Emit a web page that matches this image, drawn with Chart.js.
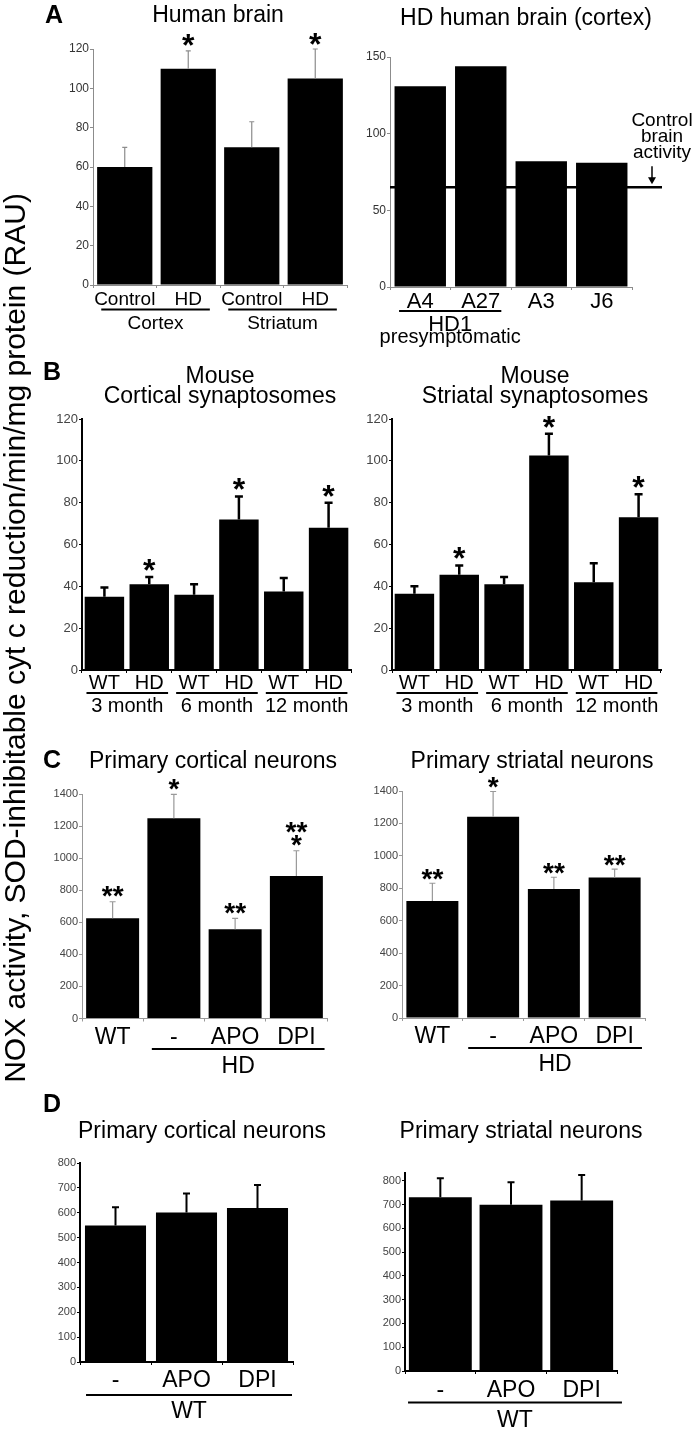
<!DOCTYPE html>
<html><head><meta charset="utf-8">
<script src="https://cdn.jsdelivr.net/npm/chart.js@4.4.1/dist/chart.umd.min.js"></script>
<style>
html,body{margin:0;padding:0;background:#fff;width:696px;height:1429px;overflow:hidden;position:relative;}
canvas{position:absolute;left:0;top:0;pointer-events:none;}
</style></head><body>
<script>
// ---------------- DATA ----------------
const humanBrainLabels = ['Control','HD','Control','HD'];
const humanBrainValues = [60,110,70,105];
const humanBrainSem = [10,9,13,15];
const humanBrainSig = ['','*','','*'];
const humanBrainGroups = ['Cortex','Striatum'];
const humanBrainGroupSpans = [[0,1],[2,3]];

const hdCortexLabels = ['A4','A27','A3','J6'];
const hdCortexValues = [131,144,82,81];
const hdCortexGroups = ['HD1'];
const hdCortexGroupSpans = [[0,1]];
const controlBrainActivity = 65;

const synLabels = ['WT','HD','WT','HD','WT','HD'];
const synGroups = ['3 month','6 month','12 month'];
const synGroupSpans = [[0,1],[2,3],[4,5]];
const corticalSynValues = [35,41,36,72,37.5,68];
const corticalSynSem = [4.5,3.5,5,11,6.5,12];
const corticalSynSig = ['','*','','*','','*'];
const striatalSynValues = [36.5,45.5,41,102.5,42,73];
const striatalSynSem = [3.5,4.5,3.5,10.5,9,11];
const striatalSynSig = ['','*','','*','','*'];

const primaryHdLabels = ['WT','-','APO','DPI'];
const primaryHdGroups = ['HD'];
const primaryHdGroupSpans = [[1,3]];
const corticalHdValues = [625,1248,556,888];
const corticalHdSem = [103,150,69,158];
const corticalHdSig = [['**'],['*'],['**'],['**','*']];
const striatalHdValues = [722,1241,796,866];
const striatalHdSem = [109,156,72,52];
const striatalHdSig = [['**'],['*'],['**'],['**']];

const primaryWtLabels = ['-','APO','DPI'];
const primaryWtGroups = ['WT'];
const primaryWtGroupSpans = [[0,2]];
const corticalWtValues = [549,601,619];
const corticalWtSem = [73,76,93];
const striatalWtValues = [731,699,717];
const striatalWtSem = [80,95,108];

const yAxisTitle = 'NOX activity, SOD-inhibitable cyt c reduction/min/mg protein (RAU)';

// ---------------- LAYOUT ----------------
const FONT = "'Liberation Sans', Arial, Helvetica, sans-serif";
const W = 696, H = 1429;
const Y_AXIS_W = 40;
const toLines = s => (Array.isArray(s) ? s : (s ? [s] : []));

const styleA = {axisColor:'#8c8c8c', axisW:1, errColor:'#8c8c8c', errW:1.2, capW:5, tickFont:12, tickColor:'#333'};
const styleB = {axisColor:'#000', axisW:2, errColor:'#000', errW:2.5, capW:8, tickFont:13, tickColor:'#444'};
const styleC = {axisColor:'#999', axisW:1, errColor:'#999', errW:1.2, capW:6, tickFont:11, tickColor:'#444'};
const styleD = {axisColor:'#000', axisW:2, errColor:'#000', errW:2, capW:7, tickFont:11, tickColor:'#444'};

const panels = [
 Object.assign({id:'aL', area:{l:93,t:49,r:347,b:285}, yMax:120, yStep:20,
   labels:humanBrainLabels, values:humanBrainValues, sem:humanBrainSem, sig:humanBrainSig,
   groups:humanBrainGroups, spans:humanBrainGroupSpans, spanPad:[0.37,0.34], barPct:0.87,
   labelFont:19, labelDy:20, lineDy:24.5, groupFont:19, groupDy:44, sigFont:32, sigDy:10.5, sigLineH:13,
   titles:[{text:'Human brain', x:218, y:22, size:23}], letter:{text:'A', x:45, y:23}, yTitle:true}, styleA),
 Object.assign({id:'aR', area:{l:390,t:57,r:632,b:287}, yMax:150, yStep:50,
   labels:hdCortexLabels, values:hdCortexValues, sem:null, sig:null,
   groups:hdCortexGroups, spans:hdCortexGroupSpans, spanPad:[0.35,0.34], barPct:0.85,
   labelFont:22, labelDy:21, lineDy:24, groupFont:22, groupDy:44, subGroup:{text:'presymptomatic', dy:56, size:20},
   control:controlBrainActivity,
   titles:[{text:'HD human brain (cortex)', x:526, y:25, size:23}]}, styleA),
 Object.assign({id:'bL', area:{l:82,t:419,r:351,b:670}, yMax:120, yStep:20,
   labels:synLabels, values:corticalSynValues, sem:corticalSynSem, sig:corticalSynSig,
   groups:synGroups, spans:synGroupSpans, spanPad:[0.4,0.42], barPct:0.88,
   labelFont:20, labelDy:19, lineDy:23, groupFont:20, groupDy:42, sigFont:32, sigDy:12, sigLineH:13,
   titles:[{text:'Mouse', x:220, y:383, size:23},{text:'Cortical synaptosomes', x:220, y:403, size:23}],
   letter:{text:'B', x:43, y:380}}, styleB),
 Object.assign({id:'bR', area:{l:392,t:419,r:661,b:670}, yMax:120, yStep:20,
   labels:synLabels, values:striatalSynValues, sem:striatalSynSem, sig:striatalSynSig,
   groups:synGroups, spans:synGroupSpans, spanPad:[0.4,0.42], barPct:0.88,
   labelFont:20, labelDy:19, lineDy:23, groupFont:20, groupDy:42, sigFont:32, sigDy:12, sigLineH:13,
   titles:[{text:'Mouse', x:535, y:383, size:23},{text:'Striatal synaptosomes', x:535, y:403, size:23}]}, styleB),
 Object.assign({id:'cL', area:{l:82,t:794,r:327,b:1018.5}, yMax:1400, yStep:200,
   labels:primaryHdLabels, values:corticalHdValues, sem:corticalHdSem, sig:corticalHdSig,
   groups:primaryHdGroups, spans:primaryHdGroupSpans, spanPad:[0.36,0.46], barPct:0.865,
   labelFont:23, labelDy:25.5, lineDy:30.5, groupFont:23, groupDy:54.5, sigFont:28, sigDy:10, sigLineH:13,
   titles:[{text:'Primary cortical neurons', x:213, y:768, size:23}], letter:{text:'C', x:43, y:768}}, styleC),
 Object.assign({id:'cR', area:{l:402,t:791,r:645,b:1018}, yMax:1400, yStep:200,
   labels:primaryHdLabels, values:striatalHdValues, sem:striatalHdSem, sig:striatalHdSig,
   groups:primaryHdGroups, spans:primaryHdGroupSpans, spanPad:[0.41,0.45], barPct:0.856,
   labelFont:23, labelDy:25, lineDy:30, groupFont:23, groupDy:53, sigFont:28, sigDy:9, sigLineH:13,
   titles:[{text:'Primary striatal neurons', x:532, y:768, size:23}]}, styleC),
 Object.assign({id:'dL', area:{l:80,t:1163,r:293,b:1362}, yMax:800, yStep:100,
   labels:primaryWtLabels, values:corticalWtValues, sem:corticalWtSem, sig:null,
   groups:primaryWtGroups, spans:primaryWtGroupSpans, spanPad:[0.415,0.486], barPct:0.86,
   labelFont:23, labelDy:25, lineDy:33, groupFont:23, groupDy:56,
   titles:[{text:'Primary cortical neurons', x:202, y:1138, size:23}], letter:{text:'D', x:43, y:1112}}, styleD),
 Object.assign({id:'dR', area:{l:405,t:1173,r:617,b:1371}, yMax:833, yStep:100,
   labels:primaryWtLabels, values:striatalWtValues, sem:striatalWtSem, sig:null,
   groups:primaryWtGroups, spans:primaryWtGroupSpans, spanPad:[0.457,0.57], barPct:0.89,
   labelFont:23, labelDy:26, lineDy:31.5, groupFont:23, groupDy:56,
   titles:[{text:'Primary striatal neurons', x:521, y:1138, size:23}]}, styleD)
];

function decorPlugin(p){
  return {
    id:'decor_'+p.id,
    afterDraw(chart){
      const ctx = chart.ctx, xs = chart.scales.x, ys = chart.scales.y, ca = chart.chartArea;
      const meta = chart.getDatasetMeta(0);
      ctx.save();
      // error bars
      if (p.sem){
        ctx.strokeStyle = p.errColor; ctx.lineWidth = p.errW; ctx.lineCap = 'butt';
        p.values.forEach((v,i)=>{
          const x = meta.data[i].x;
          const y0 = ys.getPixelForValue(v), y1 = ys.getPixelForValue(v + p.sem[i]);
          ctx.beginPath();
          ctx.moveTo(x, y0); ctx.lineTo(x, y1);
          ctx.moveTo(x - p.capW/2, y1); ctx.lineTo(x + p.capW/2, y1);
          ctx.stroke();
        });
      }
      // significance marks
      if (p.sig){
        ctx.fillStyle = '#000';
        ctx.font = `bold ${p.sigFont}px ${FONT}`;
        ctx.textAlign = 'center'; ctx.textBaseline = 'alphabetic';
        const m = ctx.measureText('*');
        const shift = (m.actualBoundingBoxAscent - m.actualBoundingBoxDescent)/2;
        p.sig.forEach((s,i)=>{
          const lines = toLines(s);
          if (!lines.length) return;
          const x = meta.data[i].x;
          const top = ys.getPixelForValue(p.values[i] + (p.sem ? p.sem[i] : 0));
          lines.slice().reverse().forEach((ln,k)=>{
            const cy = top - p.sigDy - k*p.sigLineH;
            ctx.fillText(ln, x, cy + shift);
          });
        });
      }
      // x labels
      ctx.fillStyle = '#000';
      ctx.textAlign = 'center'; ctx.textBaseline = 'alphabetic';
      ctx.font = `${p.labelFont}px ${FONT}`;
      p.labels.forEach((lb,i)=>{
        ctx.fillText(lb, xs.getPixelForValue(i), ca.bottom + p.labelDy);
      });
      // group underlines + labels
      if (p.spans){
        p.spans.forEach((sp,g)=>{
          const x1 = xs.getPixelForValue(sp[0] - p.spanPad[0]);
          const x2 = xs.getPixelForValue(sp[1] + p.spanPad[1]);
          ctx.strokeStyle = '#000'; ctx.lineWidth = 2;
          ctx.beginPath(); ctx.moveTo(x1, ca.bottom + p.lineDy); ctx.lineTo(x2, ca.bottom + p.lineDy); ctx.stroke();
          ctx.font = `${p.groupFont}px ${FONT}`;
          ctx.fillText(p.groups[g], (x1+x2)/2, ca.bottom + p.groupDy);
          if (p.subGroup){
            ctx.font = `${p.subGroup.size}px ${FONT}`;
            ctx.fillText(p.subGroup.text, (x1+x2)/2, ca.bottom + p.subGroup.dy);
          }
        });
      }
      // control brain activity line
      if (p.control !== undefined){
        const y = ys.getPixelForValue(p.control);
        ctx.strokeStyle = '#000'; ctx.lineWidth = 2.5;
        ctx.beginPath(); ctx.moveTo(ca.left, y); ctx.lineTo(ca.right + 30, y); ctx.stroke();
        const ax = ca.right + 20;
        ctx.lineWidth = 1.5;
        ctx.beginPath(); ctx.moveTo(ax, y - 21); ctx.lineTo(ax, y - 8); ctx.stroke();
        ctx.fillStyle = '#000';
        ctx.beginPath(); ctx.moveTo(ax - 4, y - 10); ctx.lineTo(ax + 4, y - 10); ctx.lineTo(ax, y - 3); ctx.closePath(); ctx.fill();
        ctx.font = `19px ${FONT}`; ctx.textAlign = 'center';
        ['Control','brain','activity'].forEach((t,k)=>ctx.fillText(t, ca.right + 30, y - 61 + k*16));
      }
      // titles
      ctx.fillStyle = '#000'; ctx.textAlign = 'center';
      (p.titles||[]).forEach(t=>{
        ctx.font = `${t.size}px ${FONT}`;
        ctx.fillText(t.text, t.x, t.y);
      });
      if (p.letter){
        ctx.textAlign = 'left';
        ctx.font = `bold 25px ${FONT}`;
        ctx.fillText(p.letter.text, p.letter.x, p.letter.y);
      }
      if (p.yTitle){
        ctx.translate(0, 638);
        ctx.rotate(-Math.PI/2);
        ctx.textAlign = 'center'; ctx.textBaseline = 'alphabetic';
        ctx.font = `30px ${FONT}`;
        ctx.fillText(yAxisTitle, 0, 25);
      }
      ctx.restore();
    }
  };
}

function makeChart(p){
  const c = document.createElement('canvas');
  c.width = W; c.height = H;
  document.body.appendChild(c);
  new Chart(c, {
    type:'bar',
    data:{labels:p.labels, datasets:[{data:p.values, backgroundColor:'#000', borderWidth:0,
      barPercentage:p.barPct, categoryPercentage:1}]},
    options:{
      responsive:false, animation:false, devicePixelRatio:1,
      layout:{padding:{left:p.area.l - Y_AXIS_W, top:p.area.t, right:W - p.area.r, bottom:H - p.area.b}},
      plugins:{legend:{display:false}, tooltip:{enabled:false}, title:{display:false}},
      scales:{
        x:{type:'category', offset:true,
           grid:{offset:true, drawOnChartArea:false, drawTicks:true, tickLength:3, color:p.axisColor, lineWidth:1},
           border:{display:true, color:p.axisColor, width:p.axisW},
           ticks:{display:false},
           afterFit:s=>{ s.height = 0; }},
        y:{min:0, max:p.yMax,
           grid:{drawOnChartArea:false, drawTicks:true, tickLength:3, color:p.axisColor, lineWidth:1},
           border:{display:true, color:p.axisColor, width:p.axisW},
           ticks:{stepSize:p.yStep, font:{size:p.tickFont, family:FONT}, color:p.tickColor, padding:1,
                  callback:v => String(v)},
           afterBuildTicks:s=>{
             const t = [];
             for (let v = 0; v <= p.yMax + 1e-9; v += p.yStep) t.push({value:v});
             s.ticks = t;
           },
           afterFit:s=>{ s.width = Y_AXIS_W; }}
      }
    },
    plugins:[decorPlugin(p)]
  });
}

panels.forEach(makeChart);
</script>
</body></html>
